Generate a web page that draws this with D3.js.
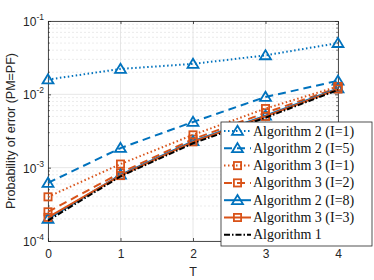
<!DOCTYPE html>
<html><head><meta charset="utf-8">
<script src="https://cdn.jsdelivr.net/npm/d3@7"></script>
<style>body{margin:0;background:#fff}svg{display:block}</style>
</head><body>
<svg id="c" width="374" height="280"></svg>
<script>
const T = [0, 1, 2, 3, 4];
const alg2_I1 = [0.0159, 0.0222, 0.026, 0.034, 0.050];
const alg2_I5 = [6.2e-4, 1.85e-3, 4.2e-3, 9.2e-3, 0.0153];
const alg3_I1 = [4.0e-4, 1.12e-3, 2.8e-3, 6.4e-3, 0.0128];
const alg3_I2 = [2.5e-4, 8.5e-4, 2.45e-3, 5.6e-3, 0.0123];
const alg2_I8 = [2.0e-4, 8.0e-4, 2.3e-3, 5.1e-3, 0.0120];
const alg3_I3 = [2.1e-4, 7.8e-4, 2.25e-3, 5.0e-3, 0.0118];
const alg1    = [1.9e-4, 7.6e-4, 2.15e-3, 4.8e-3, 0.0115];
const seriesNames = ["Algorithm 2 (I=1)","Algorithm 2 (I=5)","Algorithm 3 (I=1)","Algorithm 3 (I=2)","Algorithm 2 (I=8)","Algorithm 3 (I=3)","Algorithm 1"];
const xTicks = [0, 1, 2, 3, 4];
const yTickExps = [-4, -3, -2, -1];

const blue = "#0072BD", orange = "#D95319";
const series = [
  {name: seriesNames[0], v: alg2_I1, color: blue, dash: "1.5,2.5", marker: "tri"},
  {name: seriesNames[1], v: alg2_I5, color: blue, dash: "8,5", marker: "tri"},
  {name: seriesNames[2], v: alg3_I1, color: orange, dash: "1.5,2.5", marker: "sq"},
  {name: seriesNames[3], v: alg3_I2, color: orange, dash: "8,5", marker: "sq"},
  {name: seriesNames[4], v: alg2_I8, color: blue, dash: null, marker: "tri"},
  {name: seriesNames[5], v: alg3_I3, color: orange, dash: null, marker: "sq"},
  {name: seriesNames[6], v: alg1, color: "#000", dash: "6,2,1.5,2", marker: null}
];

const L = 48, R = 338, Tp = 21, B = 241;
const x = d3.scaleLinear().domain([0, 4]).range([L, R]);
const y = d3.scaleLog().domain([1e-4, 1e-1]).range([B, Tp]);
const svg = d3.select("#c");

// minor grid
const minor = [];
for (let e = -4; e < -1; e++) for (let k = 2; k <= 9; k++) minor.push(k * Math.pow(10, e));
svg.append("g").selectAll("line").data(minor).join("line")
  .attr("x1", L).attr("x2", R).attr("y1", d => y(d)).attr("y2", d => y(d))
  .attr("stroke", "#e6e6e6").attr("stroke-width", 0.8).attr("stroke-dasharray", "2,2");
// major grid
svg.append("g").selectAll("line").data(yTickExps).join("line")
  .attr("x1", L).attr("x2", R).attr("y1", d => y(Math.pow(10, d))).attr("y2", d => y(Math.pow(10, d)))
  .attr("stroke", "#e0e0e0").attr("stroke-width", 0.8);
svg.append("g").selectAll("line").data(xTicks).join("line")
  .attr("y1", Tp).attr("y2", B).attr("x1", d => x(d)).attr("x2", d => x(d))
  .attr("stroke", "#e0e0e0").attr("stroke-width", 0.8);

// axes
const axisCol = "#262626";
const xAxis = svg.append("g").attr("transform", `translate(0,${B})`)
  .call(d3.axisBottom(x).tickValues(xTicks).tickFormat(d3.format("d")).tickSizeInner(-3).tickSizeOuter(0).tickPadding(8));
const xAxisTop = svg.append("g").attr("transform", `translate(0,${Tp})`)
  .call(d3.axisTop(x).tickValues(xTicks).tickFormat("").tickSizeInner(-3).tickSizeOuter(0));
const yAxis = svg.append("g").attr("transform", `translate(${L},0)`)
  .call(d3.axisLeft(y).tickValues(yTickExps.map(e => Math.pow(10, e))).tickFormat("").tickSizeInner(-3).tickSizeOuter(0));
const yAxisR = svg.append("g").attr("transform", `translate(${R},0)`)
  .call(d3.axisRight(y).tickValues(yTickExps.map(e => Math.pow(10, e))).tickFormat("").tickSizeInner(-3).tickSizeOuter(0));
// minor ticks
[L, R].forEach(px => {
  svg.append("g").selectAll("line").data(minor).join("line")
    .attr("x1", px).attr("x2", px === L ? px + 1.8 : px - 1.8)
    .attr("y1", d => y(d)).attr("y2", d => y(d)).attr("stroke", axisCol).attr("stroke-width", 0.6);
});
[xAxis, xAxisTop, yAxis, yAxisR].forEach(g => {
  g.selectAll("path").attr("stroke", axisCol).attr("stroke-width", 0.8);
  g.selectAll("line").attr("stroke", axisCol).attr("stroke-width", 0.8);
});
xAxis.selectAll("text").attr("font-family", "Liberation Sans, Arial, sans-serif").attr("font-size", 12).attr("fill", axisCol);

// y tick labels with superscripts
const yl = svg.append("g");
yTickExps.forEach(e => {
  const t = yl.append("text").attr("x", 44).attr("y", y(Math.pow(10, e)) + 5)
    .attr("text-anchor", "end").attr("font-family", "Liberation Sans, Arial, sans-serif")
    .attr("font-size", 12).attr("fill", axisCol);
  t.append("tspan").text("10");
  t.append("tspan").attr("dy", -6).attr("font-size", 8.5).text(String(e).replace("-", "-"));
});

// axis titles
svg.append("text").attr("x", x(2)).attr("y", 276).attr("text-anchor", "middle")
  .attr("font-family", "Liberation Sans, Arial, sans-serif").attr("font-size", 12.5).attr("fill", axisCol).text("T");
svg.append("text").attr("transform", `translate(15,${(Tp + B) / 2}) rotate(-90)`).attr("text-anchor", "middle")
  .attr("font-family", "Liberation Sans, Arial, sans-serif").attr("font-size", 12.5).attr("fill", axisCol)
  .text("Probability of error (PM=PF)");

// series
const line = d3.line().x((d, i) => x(T[i])).y(d => y(d));
function marker(g, type, cx, cy, color) {
  if (type === "tri") {
    const s = 5.2;
    g.append("path").attr("d", `M${cx},${cy - s}L${cx + s * 1.05},${cy + s * 0.75}L${cx - s * 1.05},${cy + s * 0.75}Z`)
      .attr("fill", "none").attr("stroke", color).attr("stroke-width", 1.8);
  } else if (type === "sq") {
    const s = 3.6;
    g.append("rect").attr("x", cx - s).attr("y", cy - s).attr("width", 2 * s).attr("height", 2 * s)
      .attr("fill", "none").attr("stroke", color).attr("stroke-width", 1.8);
  }
}
series.forEach(s => {
  const g = svg.append("g");
  g.append("path").attr("d", line(s.v)).attr("fill", "none").attr("stroke", s.color)
    .attr("stroke-width", 2).attr("stroke-dasharray", s.dash);
  if (s.marker) s.v.forEach((v, i) => marker(g, s.marker, x(T[i]), y(v), s.color));
});

// legend
const lg = svg.append("g");
const lx = 221, ly = 122, lw = 151, lh = 124;
lg.append("rect").attr("x", lx).attr("y", ly).attr("width", lw).attr("height", lh)
  .attr("fill", "#fff").attr("stroke", "#262626").attr("stroke-width", 0.8);
series.forEach((s, i) => {
  const cy = ly + 9 + i * 17.3;
  lg.append("line").attr("x1", lx + 3).attr("x2", lx + 30).attr("y1", cy).attr("y2", cy)
    .attr("stroke", s.color).attr("stroke-width", 2).attr("stroke-dasharray", s.dash);
  if (s.marker) marker(lg, s.marker, lx + 16.5, cy, s.color);
  lg.append("text").attr("x", lx + 32).attr("y", cy + 4.5)
    .attr("font-family", "Liberation Serif, Times New Roman, serif").attr("font-size", 14).attr("fill", "#111")
    .text(s.name);
});
</script>
</body></html>
